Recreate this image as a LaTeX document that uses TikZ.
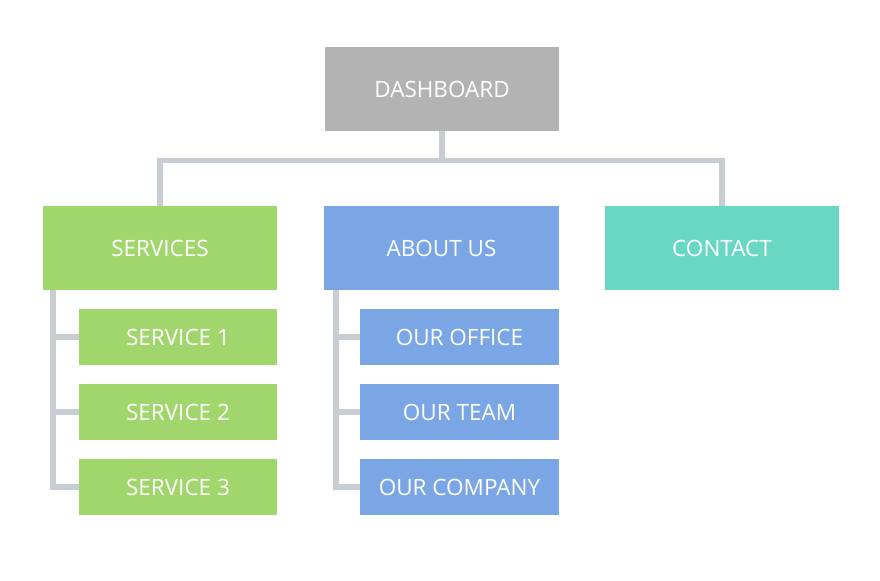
\documentclass[tikz,border=0pt]{standalone}
\usepackage{fontspec}
\setmainfont{Open Sans}

\definecolor{dashgray}{RGB}{179,179,179}
\definecolor{servgreen}{RGB}{160,214,108}
\definecolor{aboutblue}{RGB}{122,166,229}
\definecolor{contteal}{RGB}{104,216,196}
\definecolor{linkgray}{RGB}{200,205,211}

\tikzset{
  box/.style={draw=none, text=white, inner sep=0pt, font=\fontsize{16}{19}\selectfont},
  bigbox/.style={box, minimum width=5.85cm, minimum height=2.1cm},
  subbox/.style={box, minimum width=4.95cm, minimum height=1.4cm},
  link/.style={draw=linkgray, line width=4.2pt, line join=miter}
}

\begin{document}
\begin{tikzpicture}[x=0.025cm, y=-0.025cm]
	\useasboundingbox (0,0) rectangle (880,580);
	
	% top level
	\node[bigbox, fill=dashgray] (dash) at (442,89) {DASHBOARD};
	
	% second level
	\node[bigbox, fill=servgreen] (serv) at (160,248) {SERVICES};
	\node[bigbox, fill=aboutblue] (about) at (441.5,248) {ABOUT US};
	\node[bigbox, fill=contteal] (cont) at (722,248) {CONTACT};
	
	% services
	\node[subbox, fill=servgreen] (s1) at (178,337) {SERVICE 1};
	\node[subbox, fill=servgreen] (s2) at (178,412) {SERVICE 2};
	\node[subbox, fill=servgreen] (s3) at (178,487) {SERVICE 3};
	
	% about us
	\node[subbox, fill=aboutblue] (office) at (459.5,337) {OUR OFFICE};
	\node[subbox, fill=aboutblue] (team) at (459.5,412) {OUR TEAM};
	\node[subbox, fill=aboutblue] (company) at (459.5,487) {OUR COMPANY};
	
	% connectors
	\coordinate (bus) at (442,160.5);
	\coordinate (sbar) at (53,290);
	\coordinate (abar) at (336,290);
	\draw[link] (dash.south) -- (bus);
	\draw[link] (serv.north) |- (bus);
	\draw[link] (cont.north) |- (bus);
	\draw[link] (sbar) |- (s1.west);
	\draw[link] (sbar) |- (s2.west);
	\draw[link] (sbar) |- (s3.west);
	\draw[link] (abar) |- (office.west);
	\draw[link] (abar) |- (team.west);
	\draw[link] (abar) |- (company.west);
\end{tikzpicture}
\end{document}
